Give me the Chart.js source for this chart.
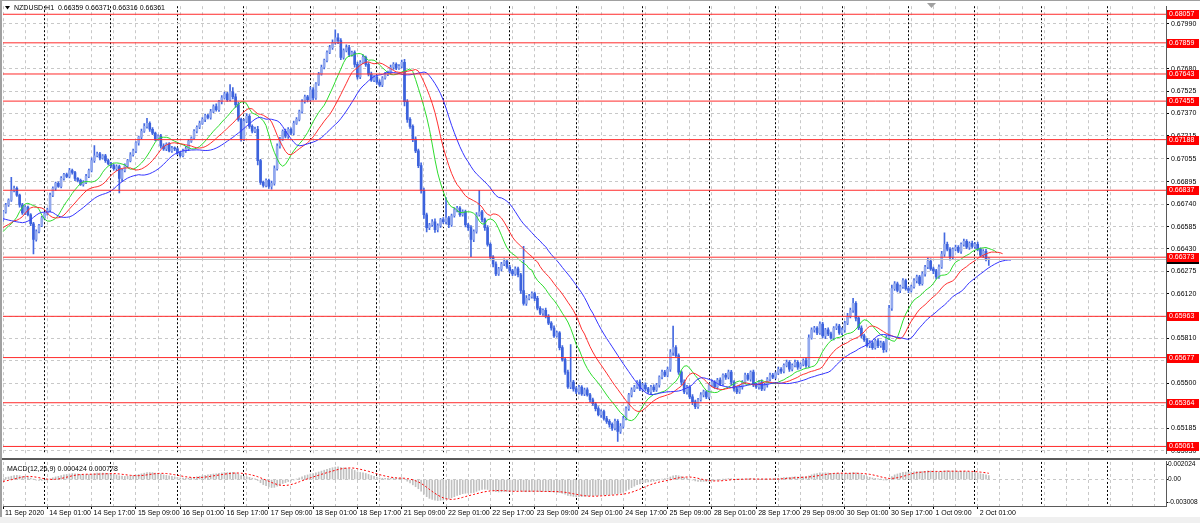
<!DOCTYPE html>
<html>
<head>
<meta charset="utf-8">
<script src="https://cdn.jsdelivr.net/npm/chart.js@4.4.0/dist/chart.umd.min.js"></script>
<style>
  html, body { margin: 0; padding: 0; background: #f0f0f0; }
  #frame { position: relative; width: 1200px; height: 523px; overflow: hidden; }
  #paper { position: absolute; left: 0; top: 0; width: 1200px; height: 517px; background: #fff; }
  #priceChart { position: absolute; left: 0; top: 0; }
  #macdChart { position: absolute; left: 0; top: 458px; }
</style>
</head>
<body>
<div id="frame">
  <div id="paper"></div>
  <canvas id="priceChart" width="1200" height="460"></canvas>
  <canvas id="macdChart" width="1200" height="59"></canvas>
</div>
<script>
// NZDUSD H1, 11 Sep 2020 09:00 -> 2 Oct 2020 05:00
const symbol = 'NZDUSD,H1';
const tradingDays = ['11 Sep', '14 Sep', '15 Sep', '16 Sep', '17 Sep', '18 Sep', '21 Sep', '22 Sep', '23 Sep',
  '24 Sep', '25 Sep', '28 Sep', '29 Sep', '30 Sep', '1 Oct', '2 Oct', '5 Oct', '6 Oct', '7 Oct'];
const firstHour = 9;
const firstLabel = '11 Sep 2020';

// prices in points (0.00001)
const firstOpen = 66633;
const closes = [
  66687, 66735, 66769, 66837, 66851, 66803, 66735, 66680, 66721, 66667, 66605, 66496, 66551, 66592, 66646,
  66673, 66701, 66803, 66851, 66885, 66864, 66919, 66946, 66933, 66974, 66960, 66919, 66905, 66878, 66892, 66933, 66974, 67042, 67076, 67090, 67062, 67076, 67042, 67021,
  67008, 66987, 67001, 66919, 66974, 67008, 67042, 67083, 67110, 67165, 67205, 67246, 67280, 67301, 67260, 67233, 67192, 67212, 67144, 67124, 67158, 67110, 67130, 67124,
  67096, 67076, 67110, 67124, 67178, 67199, 67246, 67274, 67301, 67328, 67355, 67342, 67383, 67417, 67396, 67451, 67478, 67506, 67465, 67519, 67485, 67431, 67328, 67192,
  67315, 67349, 67280, 67246, 67260, 67042, 66892, 66871, 66905, 66864, 66885, 66987, 67144, 67192, 67246, 67212, 67260, 67233, 67301, 67328, 67383, 67451, 67485, 67465,
  67533, 67478, 67574, 67642, 67690, 67737, 67792, 67826, 67860, 67894, 67874, 67758, 67806, 67826, 67778, 67792, 67710, 67622, 67724, 67758, 67710, 67642, 67601, 67622,
  67587, 67567, 67615, 67642, 67656, 67690, 67710, 67683, 67697, 67724, 67451, 67328, 67280, 67192, 67110, 67008, 66837, 66667, 66578, 66598, 66619, 66564, 66592, 66633,
  66619, 66646, 66598, 66660, 66701, 66714, 66667, 66687, 66598, 66578, 66496, 66551, 66667, 66687, 66633, 66578, 66462, 66373, 66326, 66257, 66292, 66326, 66346, 66305,
  66278, 66257, 66292, 66251, 66142, 66053, 66087, 66101, 66121, 66087, 66019, 65985, 66005, 65964, 65916, 65882, 65828, 65848, 65746, 65664, 65576, 65473, 65507, 65460,
  65439, 65473, 65425, 65453, 65419, 65385, 65357, 65323, 65282, 65303, 65255, 65235, 65214, 65187, 65235, 65166, 65200, 65255, 65323, 65419, 65453, 65473, 65507, 65460,
  65487, 65460, 65439, 65473, 65453, 65487, 65541, 65576, 65555, 65596, 65712, 65746, 65691, 65576, 65507, 65439, 65473, 65405, 65371, 65337, 65385, 65419, 65439, 65405,
  65487, 65507, 65473, 65521, 65494, 65555, 65541, 65576, 65507, 65460, 65439, 65473, 65507, 65555, 65528, 65576, 65487, 65473, 65507, 65460, 65487, 65528, 65555, 65541,
  65569, 65596, 65582, 65623, 65644, 65596, 65623, 65644, 65610, 65630, 65657, 65623, 65814, 65869, 65882, 65848, 65910, 65828, 65869, 65841, 65814, 65882, 65896, 65848,
  65869, 65916, 65964, 66005, 66053, 65951, 65882, 65828, 65801, 65760, 65780, 65746, 65794, 65760, 65780, 65732, 65814, 66019, 66155, 66189, 66142, 66169, 66210, 66155,
  66142, 66169, 66210, 66237, 66189, 66257, 66305, 66346, 66292, 66278, 66237, 66305, 66394, 66462, 66428, 66373, 66428, 66442, 66414, 66462, 66483, 66442, 66469, 66448,
  66462, 66428, 66387, 66414, 66359, 66361
];
// wick lengths in points above / below the body
const upperWicks = [
  10, 12, 8, 90, 15, 10, 8, 12, 10, 6, 8, 10, 12, 8, 10,
  8, 12, 15, 10, 8, 10, 12, 8, 10, 15, 10, 8, 6, 10, 12, 15, 10, 20, 70, 12, 10, 8, 10, 12,
  10, 8, 12, 10, 8, 12, 10, 15, 12, 10, 8, 15, 20, 35, 10, 12, 8, 10, 12, 15, 8, 10, 12, 8,
  8, 10, 12, 15, 10, 8, 12, 10, 15, 12, 10, 8, 15, 12, 20, 10, 15, 12, 10, 50, 30, 20, 15, 10,
  15, 20, 12, 10, 15, 20, 10, 8, 12, 10, 15, 20, 15, 12, 10, 15, 12, 10, 15, 12, 10, 15, 12, 10,
  20, 15, 10, 12, 15, 10, 12, 15, 20, 55, 30, 15, 12, 20, 15, 10, 12, 15, 12, 20, 10, 12, 15, 10,
  12, 15, 10, 12, 8, 15, 12, 10, 12, 15, 20, 15, 12, 10, 15, 12, 20, 15, 12, 10, 15, 20, 12, 10,
  15, 140, 10, 12, 15, 12, 10, 15, 12, 10, 15, 12, 15, 150, 10, 12, 15, 10, 12, 15, 10, 12, 15, 10,
  12, 10, 15, 12, 10, 307, 20, 15, 12, 10, 15, 12, 10, 15, 12, 10, 15, 12, 10, 15, 12, 15, 260, 12,
  15, 12, 10, 12, 15, 10, 12, 10, 15, 12, 10, 15, 12, 10, 15, 12, 20, 15, 12, 10, 15, 12, 10, 15,
  12, 15, 10, 12, 15, 12, 10, 15, 12, 15, 20, 150, 15, 12, 10, 15, 12, 10, 15, 12, 10, 15, 12, 10,
  12, 15, 10, 12, 15, 10, 12, 15, 12, 10, 15, 12, 10, 15, 12, 10, 15, 12, 10, 15, 12, 10, 15, 12,
  10, 15, 12, 10, 15, 12, 10, 15, 12, 10, 12, 15, 20, 15, 12, 10, 15, 12, 10, 15, 12, 10, 15, 12,
  15, 12, 20, 15, 35, 12, 10, 15, 12, 10, 15, 12, 10, 15, 12, 10, 15, 20, 25, 15, 12, 10, 15, 12,
  12, 10, 15, 12, 10, 15, 12, 20, 15, 12, 10, 15, 20, 80, 15, 12, 10, 15, 12, 10, 15, 12, 10, 15,
  12, 15, 10, 12, 15, 10
];
const lowerWicks = [
  12, 8, 10, 10, 12, 8, 15, 10, 12, 8, 14, 100, 12, 10, 8,
  10, 8, 12, 10, 15, 8, 10, 12, 8, 10, 12, 15, 10, 8, 12, 10, 8, 10, 12, 8, 15, 10, 12, 8,
  12, 10, 15, 100, 20, 10, 12, 8, 10, 12, 15, 10, 8, 12, 15, 10, 12, 8, 15, 10, 12, 8, 10, 12,
  12, 10, 8, 10, 12, 10, 8, 12, 10, 8, 15, 10, 12, 8, 10, 12, 15, 10, 12, 8, 15, 20, 12, 15,
  12, 10, 15, 12, 10, 30, 15, 12, 10, 15, 20, 12, 10, 15, 10, 12, 15, 10, 12, 8, 10, 12, 10, 15,
  10, 15, 12, 10, 8, 12, 10, 8, 12, 10, 20, 15, 12, 10, 15, 12, 20, 15, 12, 10, 15, 12, 10, 12,
  15, 10, 12, 8, 10, 12, 15, 10, 8, 12, 30, 20, 15, 18, 12, 15, 20, 25, 30, 15, 12, 20, 15, 12,
  12, 15, 20, 12, 10, 15, 12, 10, 15, 20, 120, 15, 12, 10, 15, 20, 12, 15, 20, 12, 10, 15, 12, 10,
  15, 12, 10, 15, 20, 12, 15, 10, 12, 15, 12, 10, 15, 12, 10, 15, 12, 10, 15, 12, 15, 10, 12, 15,
  12, 15, 10, 12, 10, 15, 12, 15, 10, 20, 12, 15, 20, 15, 12, 70, 15, 12, 10, 12, 15, 12, 10, 12,
  15, 12, 10, 15, 12, 10, 15, 12, 10, 12, 15, 20, 12, 15, 20, 12, 15, 12, 20, 15, 12, 10, 15, 12,
  15, 12, 10, 15, 12, 10, 15, 12, 20, 15, 12, 10, 15, 12, 10, 15, 12, 10, 15, 12, 10, 15, 12, 10,
  12, 10, 15, 12, 10, 15, 12, 10, 15, 12, 10, 15, 12, 10, 15, 12, 10, 15, 20, 12, 10, 15, 12, 10,
  12, 15, 10, 12, 15, 20, 12, 15, 12, 10, 15, 12, 10, 15, 12, 20, 15, 12, 15, 12, 10, 15, 12, 10,
  15, 12, 10, 15, 12, 10, 15, 12, 10, 20, 15, 12, 10, 15, 12, 20, 15, 12, 10, 15, 12, 10, 15, 12,
  15, 12, 10, 15, 12, 43
];

// Alligator values seen at the left edge (before its own data starts), points
const jawLead = [66640, 66635, 66630, 66626, 66622, 66618, 66615, 66612];
const teethLead = [66578, 66590, 66600, 66612, 66625];
const lipsLead = [66550, 66570, 66590];
// MACD state at the left edge: ema12, ema26, signal
const macdSeed = [0.66640, 0.66620, -0.00030];

// axes
const priceRange = [0.65010, 0.68113];
const priceTicks = [0.67990, 0.67835, 0.67680, 0.67525, 0.67370, 0.67215, 0.67055, 0.66895, 0.66740, 0.66585,
  0.66430, 0.66275, 0.66120, 0.65965, 0.65810, 0.65655, 0.65500, 0.65345, 0.65185, 0.65030];
const levels = [0.68057, 0.67859, 0.67643, 0.67455, 0.67188, 0.66837, 0.66373, 0.65963, 0.65677, 0.65364, 0.65061];
const macdRange = [-0.00353, 0.00235];
const macdTicks = [0.002024, 0, -0.003008];
const macdTickLabels = ['0.002024', '0.00', '-0.003008'];
const macdTitle = 'MACD(12,26,9) 0.000424 0.000778';

const POINT = 0.00001;
const slotCount = 421;     // bars + empty space on the right
const FONT = 'Liberation Sans';

Chart.defaults.font.family = FONT;
Chart.defaults.font.size = 7;
Chart.defaults.color = '#000';

// ---- derived series
const barCount = closes.length;
const opens = closes.map((c, i) => i === 0 ? firstOpen : closes[i - 1]);
const highs = closes.map((c, i) => Math.max(opens[i], c) + upperWicks[i]);
const lows = closes.map((c, i) => Math.min(opens[i], c) - lowerWicks[i]);

// time slots
const slots = [];
let dayIdx = 0, hour = firstHour;
for (let i = 0; i < slotCount; i++) {
  slots.push({ day: tradingDays[dayIdx], hour: hour });
  hour++;
  if (hour === 24) { hour = 0; dayIdx++; }
}
const labels = slots.map((s, i) => i === 0 ? firstLabel : s.day + ' ' + String(s.hour).padStart(2, '0') + ':00');
const isDayStart = i => i > 0 && slots[i] && slots[i].hour === 0;
const showLabel = i => i % 16 === 0 && i < barCount;

// Alligator: SMMA of median price, shifted forward
function alligator(period, shift, lead) {
  const out = new Array(slotCount).fill(null);
  lead.forEach((v, i) => { out[i] = v * POINT; });
  let prev = lead[lead.length - 1];
  for (let i = 0; i < barCount && i + shift < slotCount; i++) {
    const median = (highs[i] + lows[i]) / 2;
    prev = (prev * (period - 1) + median) / period;
    out[i + shift] = prev * POINT;
  }
  return out;
}
const jaw = alligator(13, 8, jawLead);
const teeth = alligator(8, 5, teethLead);
const lips = alligator(5, 3, lipsLead);

// MACD 12,26,9 (signal = SMA of main, as in MT4)
const macdMain = [], macdSignal = [];
let ema12 = macdSeed[0], ema26 = macdSeed[1];
for (let i = 0; i < barCount; i++) {
  const c = closes[i] * POINT;
  ema12 += (c - ema12) * 2 / 13;
  ema26 += (c - ema26) * 2 / 27;
  macdMain.push(ema12 - ema26);
  let sum = 0;
  for (let j = i - 8; j <= i; j++) sum += j >= 0 ? macdMain[j] : macdSeed[2];
  macdSignal.push(sum / 9);
}

// candles as floating bars
const bullColor = '#93a9ee', bearColor = '#3c62dc', wickColor = '#4469e0';
const bodies = [], wicks = [], bodyColors = [];
for (let i = 0; i < barCount; i++) {
  bodies.push([opens[i] * POINT, closes[i] * POINT]);
  wicks.push([lows[i] * POINT, highs[i] * POINT]);
  bodyColors.push(closes[i] >= opens[i] ? bullColor : bearColor);
}

// shared vertical grid (gray every 8 bars, black dashed at day start)
const timeGridColor = ctx => isDayStart(ctx.index) ? '#000' : (ctx.index % 8 === 0 ? '#c8c8c8' : 'rgba(0,0,0,0)');
const timeGridDash = ctx => isDayStart(ctx.index) ? [2, 2] : [3, 3];

const fixWidth = scale => { scale.width = 34; };

// ---- price panel
const pricePlugin = {
  id: 'priceOverlay',
  afterDatasetsDraw(chart) {
    const { ctx, chartArea: a, scales: { y } } = chart;
    ctx.save();
    ctx.beginPath();
    ctx.rect(a.left, a.top, a.right - a.left, a.bottom - a.top);
    ctx.clip();
    ctx.lineWidth = 1;
    const bidY = Math.round(y.getPixelForValue(closes[barCount - 1] * POINT)) + 0.5;
    ctx.strokeStyle = '#c0c0c0';
    ctx.beginPath(); ctx.moveTo(a.left, bidY); ctx.lineTo(a.right, bidY); ctx.stroke();
    ctx.strokeStyle = '#ff2b2b';
    levels.forEach(v => {
      const yy = y.getPixelForValue(v);
      ctx.beginPath(); ctx.moveTo(a.left, yy); ctx.lineTo(a.right, yy); ctx.stroke();
    });
    ctx.restore();
  },
  afterDraw(chart) {
    const { ctx, chartArea: a, scales: { y } } = chart;
    ctx.save();
    ctx.font = '7px ' + FONT;
    ctx.textBaseline = 'middle';
    ctx.textAlign = 'left';
    const tag = (v, bg) => {
      const yy = Math.round(y.getPixelForValue(v));
      ctx.fillStyle = bg;
      ctx.fillRect(a.right + 1, yy - 4, 32, 9);
      ctx.fillStyle = '#fff';
      ctx.fillText(v.toFixed(5), a.right + 3, yy + 0.5);
    };
    tag(closes[barCount - 1] * POINT, '#000');
    levels.forEach(v => tag(v, '#ff0000'));

    // title with last bar OHLC
    const last = barCount - 1;
    const txt = symbol + '  ' + [opens[last], highs[last], lows[last], closes[last]].map(v => (v * POINT).toFixed(5)).join(' ');
    ctx.fillStyle = '#000';
    ctx.beginPath(); ctx.moveTo(5, 6); ctx.lineTo(10, 6); ctx.lineTo(7.5, 9.5); ctx.closePath(); ctx.fill();
    ctx.fillText(txt, 14, 8.5);

    // chart shift marker
    ctx.fillStyle = '#a0a0a0';
    ctx.beginPath(); ctx.moveTo(927, 3); ctx.lineTo(936, 3); ctx.lineTo(931.5, 8); ctx.closePath(); ctx.fill();

    // window frame
    ctx.fillStyle = '#a0a0a0';
    ctx.fillRect(0, 0, 2, chart.height);
    ctx.fillRect(0, 0, chart.width, 1);
    ctx.restore();
  }
};

new Chart(document.getElementById('priceChart'), {
  type: 'bar',
  data: {
    labels: labels,
    datasets: [
      { type: 'line', label: 'Jaw', data: jaw, borderColor: '#3535ff', borderWidth: 1, pointRadius: 0, order: 0 },
      { type: 'line', label: 'Teeth', data: teeth, borderColor: '#ff3030', borderWidth: 1, pointRadius: 0, order: 0 },
      { type: 'line', label: 'Lips', data: lips, borderColor: '#2edc2e', borderWidth: 1, pointRadius: 0, order: 0 },
      { label: 'Body', data: bodies, backgroundColor: bodyColors, barThickness: 2, minBarLength: 1, grouped: false, order: 1 },
      { label: 'Wick', data: wicks, backgroundColor: wickColor, barThickness: 1, grouped: false, order: 2 }
    ]
  },
  options: {
    responsive: false,
    animation: false,
    events: [],
    layout: { padding: { left: 3, top: 3, right: 0, bottom: 2 } },
    plugins: { legend: { display: false }, tooltip: { enabled: false } },
    scales: {
      x: {
        offset: false,
        ticks: { display: false, padding: 0, autoSkip: false },
        grid: { offset: false, drawTicks: false, color: timeGridColor },
        border: { display: false, dash: timeGridDash }
      },
      y: {
        position: 'right',
        min: priceRange[0],
        max: priceRange[1],
        afterBuildTicks: s => { s.ticks = priceTicks.map(v => ({ value: v })); },
        afterFit: fixWidth,
        ticks: { autoSkip: false, padding: 2, callback: v => v.toFixed(5) },
        grid: { color: '#c8c8c8', tickColor: '#000', tickLength: 3, tickBorderDash: [] },
        border: { display: true, color: '#5a5a5a', dash: [3, 3] }
      }
    }
  },
  plugins: [pricePlugin]
});

// ---- MACD panel
const macdPlugin = {
  id: 'macdOverlay',
  afterDraw(chart) {
    const { ctx } = chart;
    ctx.save();
    ctx.fillStyle = '#5a5a5a';
    ctx.fillRect(0, 0, chart.width, 2);
    ctx.fillStyle = '#a0a0a0';
    ctx.fillRect(0, 0, 2, chart.height);
    ctx.fillStyle = '#000';
    ctx.font = '7px ' + FONT;
    ctx.textBaseline = 'middle';
    ctx.fillText(macdTitle, 7, 11);
    ctx.restore();
  }
};

new Chart(document.getElementById('macdChart'), {
  type: 'bar',
  data: {
    labels: labels,
    datasets: [
      { type: 'line', label: 'Signal', data: macdSignal, borderColor: '#ff0000', borderWidth: 1, borderDash: [2, 2], pointRadius: 0, order: 0 },
      { label: 'MACD', data: macdMain, backgroundColor: '#c0c0c0', barThickness: 1, grouped: false, order: 1 }
    ]
  },
  options: {
    responsive: false,
    animation: false,
    events: [],
    layout: { padding: { left: 3, top: 3, right: 0, bottom: 0 } },
    plugins: { legend: { display: false }, tooltip: { enabled: false } },
    scales: {
      x: {
        offset: false,
        afterFit: s => { s.height = 11; },
        ticks: {
          autoSkip: false, maxRotation: 0, padding: 0, align: 'start', labelOffset: 2,
          callback: (v, i) => showLabel(i) ? labels[i] : ''
        },
        grid: {
          offset: false, color: timeGridColor, tickLength: 3, tickBorderDash: [],
          tickColor: ctx => showLabel(ctx.index) ? '#000' : 'rgba(0,0,0,0)'
        },
        border: { display: true, color: '#5a5a5a', dash: timeGridDash }
      },
      y: {
        position: 'right',
        min: macdRange[0],
        max: macdRange[1],
        afterBuildTicks: s => { s.ticks = macdTicks.map(v => ({ value: v })); },
        afterFit: fixWidth,
        ticks: { autoSkip: false, padding: 0, font: { size: 6.6 }, callback: (v, i) => macdTickLabels[i] },
        grid: { color: ctx => ctx.tick && ctx.tick.value === 0 ? '#c8c8c8' : 'rgba(0,0,0,0)', tickColor: '#000', tickLength: 2, tickBorderDash: [] },
        border: { display: true, color: '#5a5a5a', dash: [3, 3] }
      }
    }
  },
  plugins: [macdPlugin]
});
</script>
</body>
</html>
